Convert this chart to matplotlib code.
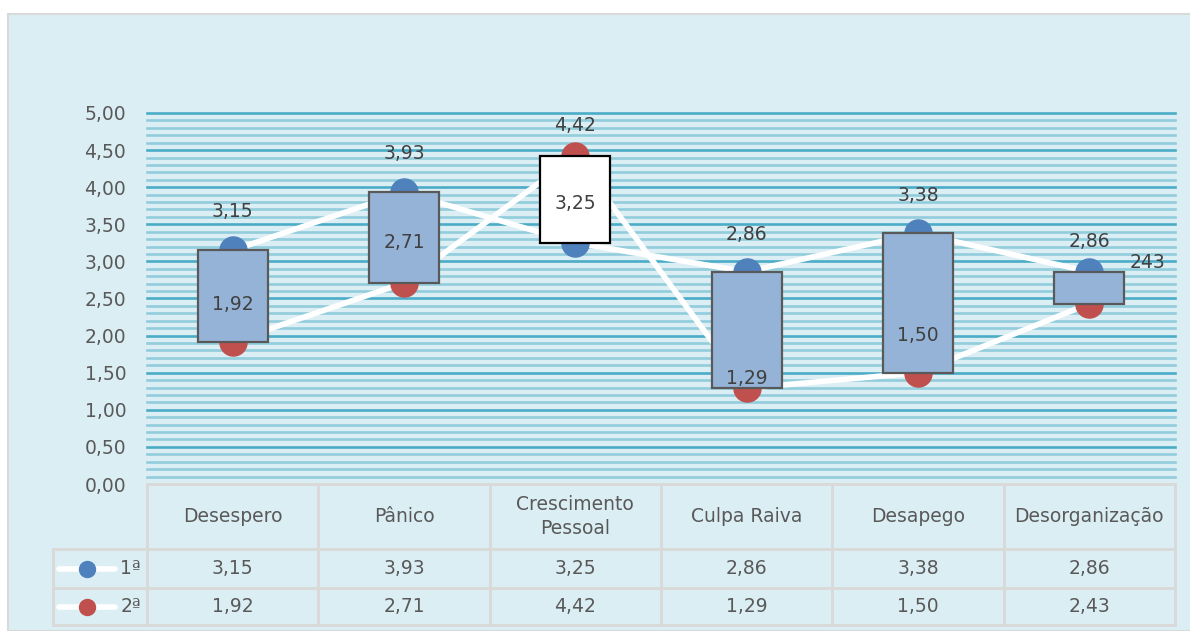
import matplotlib.pyplot as plt
from matplotlib.patches import Rectangle
import numpy as np

categorias = ['Desespero', 'Pânico', 'Crescimento\nPessoal', 'Culpa Raiva', 'Desapego', 'Desorganização']
serie1 = [3.15, 3.93, 3.25, 2.86, 3.38, 2.86]
serie2 = [1.92, 2.71, 4.42, 1.29, 1.50, 2.43]
nomes = ['1ª', '2ª']
# rotulos como aparecem no grafico (o ultimo esta "243" no original)
rotulos1 = ['3,15', '3,93', '3,25', '2,86', '3,38', '2,86']
rotulos2 = ['1,92', '2,71', '4,42', '1,29', '1,50', '243']
tabela1 = ['3,15', '3,93', '3,25', '2,86', '3,38', '2,86']
tabela2 = ['1,92', '2,71', '4,42', '1,29', '1,50', '2,43']

# deslocamento dos rotulos (pontos) - alguns foram movidos a mao no excel
desl1 = [(0, 28), (0, 28), (0, 28), (0, 27), (0, 27), (0, 22)]
desl2 = [(0, 27), (0, 29), (0, 22), (0, 7), (0, 27), (42, 30)]

cor_fundo = '#DBEEF4'
cor_texto = '#595959'
azul = '#4F81BD'
vermelho = '#C0504D'
fs = 13.5

W, H = 1190, 631
fig = plt.figure(figsize=(W / 100, H / 100), dpi=100)
fig.patch.set_facecolor('white')
fig.patches.append(Rectangle((8 / W, 0), 1.0, 1 - 14 / H, transform=fig.transFigure,
                             facecolor=cor_fundo, edgecolor='#D9D9D9', lw=1.5, zorder=-10))

x0, x1, y0, y1 = 147, 1175, 113, 484
ax = fig.add_axes([x0 / W, 1 - y1 / H, (x1 - x0) / W, (y1 - y0) / H])
ax.set_facecolor(cor_fundo)
for s in ax.spines.values():
    s.set_visible(False)

x = np.arange(len(categorias))
ax.set_xlim(-0.5, len(categorias) - 0.5)
ax.set_ylim(0, 5)

# grades: principal a cada 0,5 e secundaria a cada 0,1
for v in np.arange(0.1, 5.01, 0.1):
    maior = abs(v * 2 - round(v * 2)) < 1e-6
    ax.axhline(v, color='#4BACC6' if maior else '#92CDDC', lw=1.9, zorder=0, clip_on=False)

ax.set_yticks(np.arange(0, 5.01, 0.5))
ax.set_yticklabels([f'{v:.2f}'.replace('.', ',') for v in np.arange(0, 5.01, 0.5)],
                   fontsize=fs, color=cor_texto)
ax.tick_params(axis='y', length=0, pad=15)
ax.set_xticks([])

# linhas e marcadores
for serie, cor in [(serie1, azul), (serie2, vermelho)]:
    ax.plot(x, serie, color='white', lw=4, zorder=2, solid_capstyle='round')
    ax.plot(x, serie, 'o', color=cor, ms=19.5, mec=cor, zorder=3)

# barras up/down
larg = 0.41
for i in range(len(categorias)):
    baixo = min(serie1[i], serie2[i])
    alto = max(serie1[i], serie2[i])
    if serie2[i] > serie1[i]:
        fc, ec = 'white', 'black'
    else:
        fc, ec = '#95B3D7', '#595959'
    ax.add_patch(Rectangle((x[i] - larg / 2, baixo), larg, alto - baixo,
                           facecolor=fc, edgecolor=ec, lw=1.6, zorder=4))

# rotulos
for i in range(len(categorias)):
    ax.annotate(rotulos1[i], (x[i], serie1[i]), xytext=desl1[i], textcoords='offset points',
                ha='center', va='center', fontsize=fs, color='#404040', zorder=6)
    ax.annotate(rotulos2[i], (x[i], serie2[i]), xytext=desl2[i], textcoords='offset points',
                ha='center', va='center', fontsize=fs, color='#404040', zorder=6)

# tabela de dados
leg_x = 53
ux = (x1 - x0) / len(categorias)
esq = -0.5 - (x0 - leg_x) / ux
tb_top, tb_bot = 484, 625
tax = fig.add_axes([leg_x / W, 1 - tb_bot / H, (x1 - leg_x) / W, (tb_bot - tb_top) / H])
tax.set_xlim(esq, len(categorias) - 0.5)
tax.set_ylim(tb_bot - tb_top, 0)
tax.axis('off')
linhas_y = [0, 65, 104, 141]
cor_grade = '#D9D9D9'
kw = dict(color=cor_grade, lw=2, clip_on=False)
tax.plot([-0.5, len(categorias) - 0.5], [0, 0], **kw)
for yy in linhas_y[1:]:
    tax.plot([esq, len(categorias) - 0.5], [yy, yy], **kw)
for i in range(len(categorias) + 1):
    tax.plot([i - 0.5, i - 0.5], [0, 141], **kw)
tax.plot([esq, esq], [65, 141], **kw)

for i, cat in enumerate(categorias):
    tax.text(i, 32.5, cat, ha='center', va='center', fontsize=fs, color=cor_texto,
             linespacing=1.35)
    tax.text(i, 84.5, tabela1[i], ha='center', va='center', fontsize=fs, color=cor_texto)
    tax.text(i, 123, tabela2[i], ha='center', va='center', fontsize=fs, color=cor_texto)

# legenda dentro da tabela
for k, (nome, cor) in enumerate(zip(nomes, [azul, vermelho])):
    yy = [84.5, 123][k]
    lx = [esq + 6 / ux, esq + 62 / ux]
    tax.plot(lx, [yy, yy], color='white', lw=4, solid_capstyle='round', clip_on=False)
    tax.plot([esq + 34 / ux], [yy], 'o', color=cor, ms=11.5, clip_on=False)
    tax.text(-0.5 - 6 / ux, yy, nome, ha='right', va='center', fontsize=fs, color=cor_texto)

fig.savefig('out.png', dpi=100, facecolor=fig.get_facecolor())
